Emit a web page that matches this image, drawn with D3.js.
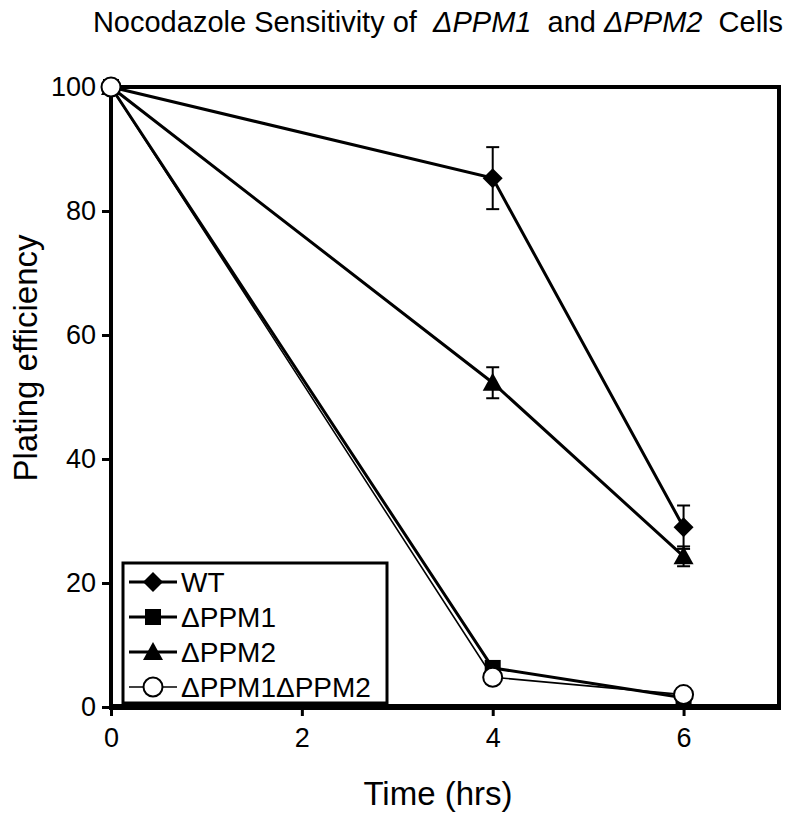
<!DOCTYPE html>
<html>
<head>
<meta charset="utf-8">
<script src="https://cdn.jsdelivr.net/npm/d3@7"></script>
<style>
  body { margin: 0; background: #fff; }
  svg { font-family: "Liberation Sans", Arial, sans-serif; }
</style>
</head>
<body>
<svg id="chart" width="800" height="820"></svg>
<script>
// Time points (hrs)
var times = [0, 4, 6];

// Plating efficiency per strain
var wt = [100, 85.3, 29.0];
var ppm1 = [100, 6.3, 1.5];
var ppm2 = [100, 52.3, 24.3];
var ppm1ppm2 = [100, 4.8, 2.0];

// Error bars (± value), null where none is drawn
var wtErr = [null, 5.0, 3.5];
var ppm2Err = [null, 2.5, 1.6];

var seriesNames = ["WT", "ΔPPM1", "ΔPPM2", "ΔPPM1ΔPPM2"];
var xTicks = [0, 2, 4, 6];
var yTicks = [0, 20, 40, 60, 80, 100];

var series = [
  { name: seriesNames[0], values: wt, err: wtErr, symbol: "diamond" },
  { name: seriesNames[1], values: ppm1, err: null, symbol: "square" },
  { name: seriesNames[2], values: ppm2, err: ppm2Err, symbol: "triangle" },
  { name: seriesNames[3], values: ppm1ppm2, err: null, symbol: "circle" }
];

var svg = d3.select("#chart");
var plotLeft = 111, plotRight = 779, plotTop = 87, plotBottom = 707;

var x = d3.scaleLinear().domain([0, 7]).range([plotLeft, plotRight]);
var y = d3.scaleLinear().domain([0, 100]).range([plotBottom, plotTop]);

// Title, with italic strain names
var title = svg.append("text")
  .attr("x", 438).attr("y", 32)
  .attr("text-anchor", "middle")
  .style("font-size", "29px");
title.append("tspan").text("Nocodazole Sensitivity of\u00a0\u00a0");
title.append("tspan").style("font-style", "italic").text("ΔPPM1");
title.append("tspan").text("\u00a0\u00a0and\u00a0");
title.append("tspan").style("font-style", "italic").text("ΔPPM2");
title.append("tspan").text("\u00a0\u00a0Cells");

// Axes
var xAxis = d3.axisBottom(x).tickValues(xTicks).tickFormat(d3.format("d")).tickSize(9).tickPadding(12);
var yAxis = d3.axisLeft(y).tickValues(yTicks).tickFormat(d3.format("d")).tickSize(9).tickPadding(6);

var gx = svg.append("g").attr("transform", "translate(0," + plotBottom + ")").call(xAxis);
var gy = svg.append("g").attr("transform", "translate(" + plotLeft + ",0)").call(yAxis);

[gx, gy].forEach(function (g) {
  g.select(".domain").remove();
  g.attr("font-family", null).attr("font-size", null);
  g.selectAll(".tick line").attr("stroke", "#000").attr("stroke-width", 3);
  g.selectAll(".tick text").attr("fill", "#000").style("font-size", "27px");
});

// Plot frame
svg.append("rect")
  .attr("x", plotLeft).attr("y", plotTop)
  .attr("width", plotRight - plotLeft).attr("height", plotBottom - plotTop)
  .attr("fill", "none").attr("stroke", "#000").attr("stroke-width", 4);
svg.append("line")
  .attr("x1", plotLeft - 2).attr("x2", plotRight + 2)
  .attr("y1", plotBottom).attr("y2", plotBottom)
  .attr("stroke", "#000").attr("stroke-width", 6);

// Axis titles
svg.append("text")
  .attr("x", 438).attr("y", 805)
  .attr("text-anchor", "middle")
  .style("font-size", "33px")
  .text("Time (hrs)");

svg.append("text")
  .attr("transform", "translate(37,358) rotate(-90)")
  .attr("text-anchor", "middle")
  .style("font-size", "33px")
  .text("Plating efficiency");

// Symbol drawing helper
function drawSymbol(g, symbol, cx, cy) {
  if (symbol === "diamond") {
    g.append("path")
      .attr("d", "M" + cx + "," + (cy - 10) + "L" + (cx + 10) + "," + cy + "L" + cx + "," + (cy + 10) + "L" + (cx - 10) + "," + cy + "Z")
      .attr("fill", "#000");
  } else if (symbol === "square") {
    g.append("rect")
      .attr("x", cx - 8).attr("y", cy - 8)
      .attr("width", 16).attr("height", 16)
      .attr("fill", "#000");
  } else if (symbol === "triangle") {
    g.append("path")
      .attr("d", "M" + cx + "," + (cy - 10) + "L" + (cx + 10) + "," + (cy + 8) + "L" + (cx - 10) + "," + (cy + 8) + "Z")
      .attr("fill", "#000");
  } else {
    g.append("circle")
      .attr("cx", cx).attr("cy", cy).attr("r", 9.5)
      .attr("fill", "#fff").attr("stroke", "#000").attr("stroke-width", 2);
  }
}

var line = d3.line()
  .x(function (d, i) { return x(times[i]); })
  .y(function (d) { return y(d); });

// Lines
series.forEach(function (s) {
  svg.append("path")
    .datum(s.values)
    .attr("d", line)
    .attr("fill", "none")
    .attr("stroke", "#000")
    .attr("stroke-width", s.symbol === "circle" ? 1.6 : 3);
});

// Error bars
series.forEach(function (s) {
  if (!s.err) return;
  s.values.forEach(function (v, i) {
    var e = s.err[i];
    if (e == null) return;
    var cx = x(times[i]);
    var g = svg.append("g").attr("stroke", "#000").attr("stroke-width", 2);
    g.append("line").attr("x1", cx).attr("x2", cx).attr("y1", y(v + e)).attr("y2", y(v - e));
    g.append("line").attr("x1", cx - 6.5).attr("x2", cx + 6.5).attr("y1", y(v + e)).attr("y2", y(v + e));
    g.append("line").attr("x1", cx - 6.5).attr("x2", cx + 6.5).attr("y1", y(v - e)).attr("y2", y(v - e));
  });
});

// Markers
series.forEach(function (s) {
  var g = svg.append("g");
  s.values.forEach(function (v, i) {
    drawSymbol(g, s.symbol, x(times[i]), y(v));
  });
});

// Legend
var legend = svg.append("g");
legend.append("rect")
  .attr("x", 123).attr("y", 563)
  .attr("width", 264).attr("height", 140)
  .attr("fill", "#fff").attr("stroke", "#000").attr("stroke-width", 3);

series.forEach(function (s, i) {
  var ly = 582 + i * 35;
  legend.append("line")
    .attr("x1", 129).attr("x2", 177)
    .attr("y1", ly).attr("y2", ly)
    .attr("stroke", "#000")
    .attr("stroke-width", s.symbol === "circle" ? 1.6 : 3);
  drawSymbol(legend, s.symbol, 153, ly);
  legend.append("text")
    .attr("x", 181).attr("y", ly + 10)
    .style("font-size", "28px")
    .text(s.name);
});
</script>
</body>
</html>
